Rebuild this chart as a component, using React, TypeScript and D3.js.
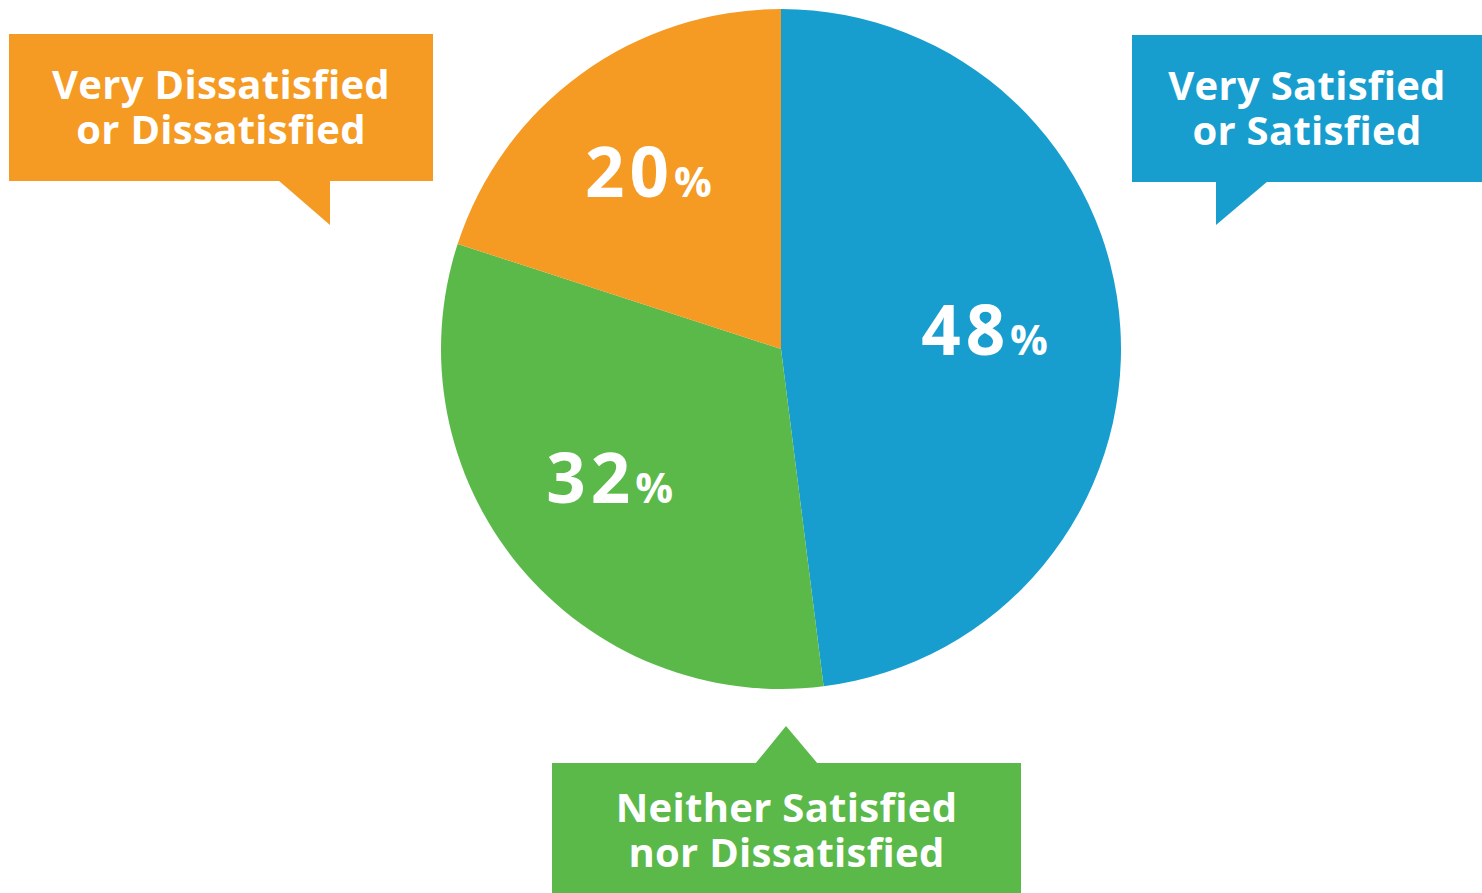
import React from "react";
import * as d3 from "d3";

const categories = ["Very Satisfied or Satisfied", "Neither Satisfied nor Dissatisfied", "Very Dissatisfied or Dissatisfied"];
const values = [48, 32, 20];
const colors = ["#179ECF", "#5BB94A", "#F59A23"];
const calloutLines = [
  ["Very Satisfied", "or Satisfied"],
  ["Neither Satisfied", "nor Dissatisfied"],
  ["Very Dissatisfied", "or Dissatisfied"],
];

const W = 1482;
const H = 893;
const cx = 781;
const cy = 349;
const R = 340;
const FONT = "'Open Sans', 'DejaVu Sans', sans-serif";

const boxes = [
  { x: 1132, y: 35, w: 350, h: 147, tail: [[1216, 181], [1268, 181], [1216, 225]] },
  { x: 552, y: 763, w: 469, h: 130, tail: [[755, 764], [786, 726], [818, 764]] },
  { x: 9, y: 34, w: 424, h: 147, tail: [[278, 180], [330, 180], [330, 225]] },
];

export default function App() {
  const pie = d3.pie<number>().sort(null).value((d) => d)(values);
  const arc = d3.arc<d3.PieArcDatum<number>>().innerRadius(0).outerRadius(R);
  const labelArc = d3.arc<d3.PieArcDatum<number>>().innerRadius(212).outerRadius(212);

  return (
    <div style={{ position: "absolute", left: 0, top: 0 }}>
      <svg width={W} height={H} style={{ display: "block", background: "#fff" }}>
        <g transform={`translate(${cx},${cy})`}>
          {pie.map((p, i) => (
            <path key={i} d={arc(p) || ""} fill={colors[i]} />
          ))}
          {pie.map((p, i) => {
            const [x, y] = labelArc.centroid(p);
            return (
              <text key={"l" + i} x={x - 8} y={y + 19} textAnchor="middle" fill="#fff" fontFamily={FONT} fontWeight={700}>
                <tspan fontSize={69} letterSpacing={5}>{values[i]}</tspan>
                <tspan fontSize={42} dx={0}>%</tspan>
              </text>
            );
          })}
        </g>
        {boxes.map((b, i) => (
          <g key={"b" + i}>
            <polygon points={b.tail.map((p) => p.join(",")).join(" ")} fill={colors[i]} />
            <rect x={b.x} y={b.y} width={b.w} height={b.h} fill={colors[i]} />
            {calloutLines[i].map((line, j) => (
              <text
                key={j}
                x={b.x + b.w / 2}
                y={b.y + (i === 1 ? 59 : 65) + j * 45}
                textAnchor="middle"
                fill="#fff"
                fontFamily={FONT}
                fontWeight={700}
                fontSize={40}
                letterSpacing={0.3}
              >
                {line}
              </text>
            ))}
          </g>
        ))}
      </svg>
    </div>
  );
}
